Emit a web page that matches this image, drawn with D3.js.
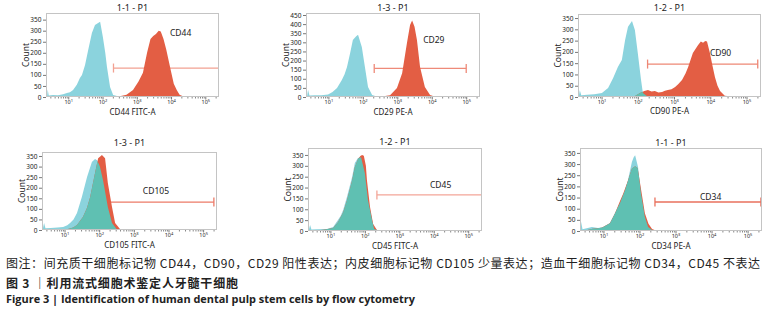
<!DOCTYPE html>
<html>
<head>
<meta charset="utf-8">
<script src="https://cdn.jsdelivr.net/npm/d3@7"></script>
<style>
  body { margin: 0; background: #fff; }
  svg { display: block; }
  text { font-family: "Noto Sans", sans-serif; fill: #222; }
</style>
</head>
<body>
<svg id="fig" width="775" height="321"></svg>
<script>
(function () {

    // histogram points: [log10 fluorescence, count]
    let cd44Ctrl = [[0.38, 2], [0.4, 34], [0.43, 7], [0.55, 9], [0.7, 8], [0.85, 12], [0.96, 18], [1.05, 22], [1.14, 32], [1.25, 55], [1.34, 86], [1.4, 100], [1.49, 145], [1.58, 212], [1.69, 290], [1.78, 326], [1.86, 334], [1.93, 340], [2.01, 271], [2.08, 200], [2.13, 136], [2.22, 45], [2.31, 9], [2.45, 3], [3.5, 2], [5.4, 2]];
    let cd44Stain = [[2.3, 1], [2.5, 3], [2.7, 10], [2.89, 32], [3.05, 70], [3.18, 110], [3.3, 200], [3.4, 262], [3.48, 276], [3.56, 285], [3.64, 300], [3.7, 296], [3.78, 262], [3.86, 215], [3.93, 165], [4.0, 115], [4.08, 60], [4.17, 30], [4.25, 10], [4.33, 4], [4.5, 1], [5.4, 1]];

    let cd29Ctrl = [[0.38, 2], [0.41, 40], [0.45, 8], [0.6, 10], [0.8, 9], [0.99, 14], [1.12, 28], [1.25, 49], [1.39, 93], [1.47, 125], [1.54, 165], [1.63, 240], [1.71, 313], [1.8, 332], [1.86, 342], [1.97, 275], [2.06, 165], [2.15, 55], [2.27, 11], [2.4, 3], [5.4, 2]];
    let cd29Stain = [[2.5, 1], [2.79, 9], [2.99, 49], [3.14, 131], [3.28, 296], [3.37, 395], [3.43, 420], [3.5, 385], [3.57, 313], [3.66, 165], [3.8, 55], [3.95, 11], [4.1, 2], [5.4, 1]];

    let cd90Ctrl = [[0.37, 2], [0.4, 30], [0.44, 8], [0.6, 10], [0.8, 12], [1.01, 18], [1.18, 40], [1.32, 84], [1.45, 133], [1.56, 164], [1.65, 253], [1.73, 311], [1.84, 337], [1.92, 297], [2.0, 195], [2.09, 75], [2.14, 18], [2.25, 4], [5.4, 2]];
    let cd90Stain = [[1.9, 2], [2.06, 18], [2.18, 27], [2.28, 31], [2.38, 24], [2.47, 27], [2.57, 20], [2.67, 22], [2.75, 28], [2.83, 31], [2.93, 34], [3.03, 44], [3.12, 58], [3.22, 75], [3.32, 105], [3.39, 133], [3.52, 195], [3.66, 230], [3.74, 246], [3.8, 240], [3.86, 248], [3.91, 246], [3.99, 195], [4.06, 140], [4.13, 88], [4.2, 50], [4.27, 27], [4.4, 5], [4.6, 2], [5.4, 1]];

    let cd105Ctrl = [[0.37, 2], [0.41, 33], [0.45, 8], [0.6, 10], [0.8, 12], [0.96, 14], [1.08, 22], [1.16, 33], [1.26, 50], [1.36, 80], [1.5, 156], [1.65, 251], [1.79, 322], [1.88, 336], [1.94, 330], [2.02, 300], [2.11, 237], [2.25, 109], [2.37, 33], [2.5, 5], [5.4, 1]];
    let cd105Stain = [[0.9, 1], [1.1, 5], [1.25, 12], [1.36, 24], [1.53, 61], [1.65, 105], [1.74, 156], [1.88, 270], [1.97, 340], [2.03, 348], [2.08, 355], [2.17, 340], [2.25, 222], [2.37, 109], [2.46, 33], [2.6, 5], [2.8, 1], [5.4, 1]];

    let cd45Ctrl = [[0.37, 2], [0.41, 28], [0.45, 7], [0.6, 8], [0.9, 9], [1.08, 18], [1.22, 51], [1.3, 70], [1.37, 97], [1.48, 156], [1.63, 248], [1.71, 313], [1.8, 336], [1.89, 340], [2.0, 267], [2.09, 143], [2.21, 51], [2.27, 9], [2.4, 2], [5.4, 1]];
    let cd45Stain = [[0.5, 1], [0.8, 6], [1.08, 14], [1.22, 40], [1.37, 85], [1.48, 140], [1.63, 232], [1.71, 295], [1.8, 330], [1.87, 345], [1.92, 350], [1.97, 346], [2.03, 300], [2.06, 235], [2.15, 110], [2.24, 32], [2.35, 5], [2.5, 1], [5.4, 1]];

    let cd34Ctrl = [[0.36, 2], [0.38, 40], [0.42, 8], [0.68, 18], [0.85, 14], [0.99, 18], [1.18, 36], [1.32, 81], [1.46, 125], [1.6, 184], [1.68, 228], [1.79, 309], [1.84, 330], [1.88, 340], [1.96, 287], [2.04, 170], [2.15, 63], [2.24, 18], [2.35, 5], [2.5, 2], [5.4, 1]];
    let cd34Stain = [[0.5, 2], [0.7, 10], [0.95, 15], [1.18, 35], [1.32, 78], [1.46, 135], [1.55, 168], [1.68, 225], [1.79, 280], [1.88, 290], [1.95, 282], [2.04, 190], [2.15, 80], [2.25, 32], [2.35, 9], [2.45, 2], [5.4, 1]];

    // gates: low edge, high edge (log10), count level
    let gateLow = [2.32, 2.33, 2.27, 2.33, 2.35, 2.43];
    let gateHigh = [5.4, 5.0, 5.31, 5.31, 5.4, 5.37];
    let gateCount = [131, 157, 146, 132, 166, 130];

    let titles = ["1-1 - P1", "1-3 - P1", "1-2 - P1", "1-3 - P1", "1-2 - P1", "1-1 - P1"];
    let markers = ["CD44", "CD29", "CD90", "CD105", "CD45", "CD34"];
    let xLabels = ["CD44 FITC-A", "CD29 PE-A", "CD90 PE-A", "CD105 FITC-A", "CD45 FITC-A", "CD34 PE-A"];
    let decades = [1, 2, 3, 4, 5];
    let xExp = [0.35, 5.4];

    let captions = [
        "图注：间充质干细胞标记物 CD44，CD90，CD29 阳性表达；内皮细胞标记物 CD105 少量表达；造血干细胞标记物 CD34，CD45 不表达",
        "图 3 ｜利用流式细胞术鉴定人牙髓干细胞",
        "Figure 3 | Identification of human dental pulp stem cells by flow cytometry"
    ];

    let ctrls = [cd44Ctrl, cd29Ctrl, cd90Ctrl, cd105Ctrl, cd45Ctrl, cd34Ctrl];
    let stains = [cd44Stain, cd29Stain, cd90Stain, cd105Stain, cd45Stain, cd34Stain];

    // layout per panel
    let boxes = [
        {left: 46, right: 219, top: 13, bottom: 97, yMax: 380, yTop: 350, titleY: 11, xLabelY: 115, markAt: [3.97, 276], caps: [1, 0], gateColor: "#f2a192"},
        {left: 306, right: 480, top: 13, bottom: 97, yMax: 461, yTop: 450, titleY: 11, xLabelY: 115, markAt: [3.75, 296], caps: [1, 1], gateColor: "#ee8a79"},
        {left: 578, right: 761, top: 14, bottom: 97, yMax: 368, yTop: 350, titleY: 11, xLabelY: 114, markAt: [3.99, 182], caps: [1, 1], gateColor: "#ee8775"},
        {left: 42, right: 217, top: 152, bottom: 230, yMax: 369, yTop: 350, titleY: 146, xLabelY: 247.5, markAt: [3.26, 170], caps: [0, 1], gateColor: "#ec7a67"},
        {left: 308, right: 482, top: 148, bottom: 231, yMax: 382, yTop: 350, titleY: 145, xLabelY: 249, markAt: [3.89, 198], caps: [1, 0], gateColor: "#f3a598"},
        {left: 580, right: 762, top: 148, bottom: 231, yMax: 372, yTop: 350, titleY: 146, xLabelY: 248.5, markAt: [3.68, 139], caps: [1, 1], gateColor: "#e9715d"}
    ];

    let cyan = "#8bd3dd";
    let red = "#e35e44";
    let teal = "#5fc0b2";

    let svg = d3.select("#fig");
    let defs = svg.append("defs");

    boxes.forEach((b, i) => {
        let x = d3.scaleLog()
            .domain([10 ** xExp[0], 10 ** xExp[1]])
            .range([b.left, b.right]);
        let y = d3.scaleLinear()
            .domain([0, b.yMax])
            .range([b.bottom, b.top]);

        let area = d3.area()
            .x(d => x(10 ** d[0]))
            .y0(y(0))
            .y1(d => y(d[1]));

        defs.append("clipPath").attr("id", "frame" + i)
            .append("rect")
            .attr("x", b.left).attr("y", b.top)
            .attr("width", b.right - b.left).attr("height", b.bottom - b.top);
        defs.append("clipPath").attr("id", "stain" + i)
            .append("path")
            .attr("d", area(stains[i]));

        let g = svg.append("g").attr("class", "panel");

        // gate drawn under the histograms
        let gate = g.append("g").attr("clip-path", `url(#frame${i})`)
            .attr("stroke", b.gateColor).attr("stroke-width", 1.3).attr("fill", "none");
        let gy = y(gateCount[i]);
        let gx0 = x(10 ** gateLow[i]);
        let gx1 = x(10 ** gateHigh[i]);
        gate.append("line").attr("x1", gx0).attr("x2", gx1).attr("y1", gy).attr("y2", gy);
        if (b.caps[0]) gate.append("line").attr("x1", gx0).attr("x2", gx0).attr("y1", gy - 4.5).attr("y2", gy + 4.5);
        if (b.caps[1]) gate.append("line").attr("x1", gx1).attr("x2", gx1).attr("y1", gy - 4.5).attr("y2", gy + 4.5);

        let hist = g.append("g").attr("clip-path", `url(#frame${i})`);
        hist.append("path").attr("d", area(ctrls[i])).attr("fill", cyan);
        hist.append("path").attr("d", area(stains[i])).attr("fill", red);
        hist.append("g").attr("clip-path", `url(#stain${i})`)
            .append("path").attr("d", area(ctrls[i])).attr("fill", teal);

        g.append("rect")
            .attr("x", b.left + 0.5).attr("y", b.top + 0.5)
            .attr("width", b.right - b.left - 1).attr("height", b.bottom - b.top - 1)
            .attr("fill", "none").attr("stroke", "#c4c4c4").attr("stroke-width", 1);

        // y axis
        let yAxis = g.append("g")
            .attr("transform", `translate(${b.left},0)`)
            .call(d3.axisLeft(y).tickValues(d3.range(0, b.yTop + 1, 50)).tickSize(3).tickPadding(1.5));
        yAxis.select(".domain").remove();
        yAxis.selectAll(".tick line").attr("stroke", "#777");
        yAxis.selectAll("text").attr("font-size", 6.5).attr("fill", "#333").style("font-family", "'Noto Sans', sans-serif");

        // x axis, minor ticks
        let minor = [];
        for (let k = 0; k <= 5; k++) {
            for (let m = 2; m <= 9; m++) {
                let v = m * 10 ** k;
                if (v > 10 ** xExp[0] && v < 10 ** xExp[1]) minor.push(v);
            }
        }
        let xMinor = g.append("g")
            .attr("transform", `translate(0,${b.bottom})`)
            .call(d3.axisBottom(x).tickValues(minor).tickSize(1.5).tickFormat(""));
        xMinor.select(".domain").remove();
        xMinor.selectAll(".tick line").attr("stroke", "#888");

        let xAxis = g.append("g")
            .attr("transform", `translate(0,${b.bottom})`)
            .call(d3.axisBottom(x).tickValues(decades.map(e => 10 ** e)).tickSize(2.5).tickPadding(1));
        xAxis.select(".domain").remove();
        xAxis.selectAll(".tick line").attr("stroke", "#777");
        xAxis.selectAll(".tick text")
            .text(null)
            .attr("font-size", 5.5)
            .attr("fill", "#333")
            .style("font-family", "'Noto Sans', sans-serif")
            .each(function (d, j) {
                let t = d3.select(this);
                t.append("tspan").text("10");
                t.append("tspan").attr("dy", -2.2).attr("font-size", 4).text(decades[j]);
            });

        g.append("text")
            .attr("x", (b.left + b.right) / 2).attr("y", b.titleY)
            .attr("text-anchor", "middle").attr("font-size", 9)
            .text(titles[i]);

        g.append("text")
            .attr("x", (b.left + b.right) / 2).attr("y", b.xLabelY)
            .attr("text-anchor", "middle").attr("font-size", 8)
            .text(xLabels[i]);

        g.append("text")
            .attr("transform", `translate(${b.left - 17},${(b.top + b.bottom) / 2}) rotate(-90)`)
            .attr("text-anchor", "middle").attr("font-size", 8.5)
            .text("Count");

        g.append("text")
            .attr("x", x(10 ** b.markAt[0])).attr("y", y(b.markAt[1]))
            .attr("font-size", 8.5)
            .text(markers[i]);
    });

    let cap = svg.append("g").attr("class", "caption");
    cap.append("text")
        .attr("x", 6).attr("y", 268)
        .attr("textLength", 754).attr("lengthAdjust", "spacing")
        .style("font-family", "'Noto Sans CJK SC', sans-serif")
        .attr("font-size", 12)
        .attr("fill", "#111")
        .text(captions[0]);
    cap.append("text")
        .attr("x", 6).attr("y", 288)
        .attr("textLength", 232).attr("lengthAdjust", "spacing")
        .style("font-family", "'Noto Sans CJK SC', sans-serif")
        .attr("font-size", 12).attr("font-weight", "bold")
        .attr("fill", "#111")
        .text(captions[1]);
    cap.append("text")
        .attr("x", 6).attr("y", 303)
        .attr("textLength", 409).attr("lengthAdjust", "spacingAndGlyphs")
        .style("font-family", "'Open Sans', sans-serif")
        .attr("font-size", 11).attr("font-weight", "bold")
        .attr("fill", "#111")
        .text(captions[2]);

})();
</script>
</body>
</html>
